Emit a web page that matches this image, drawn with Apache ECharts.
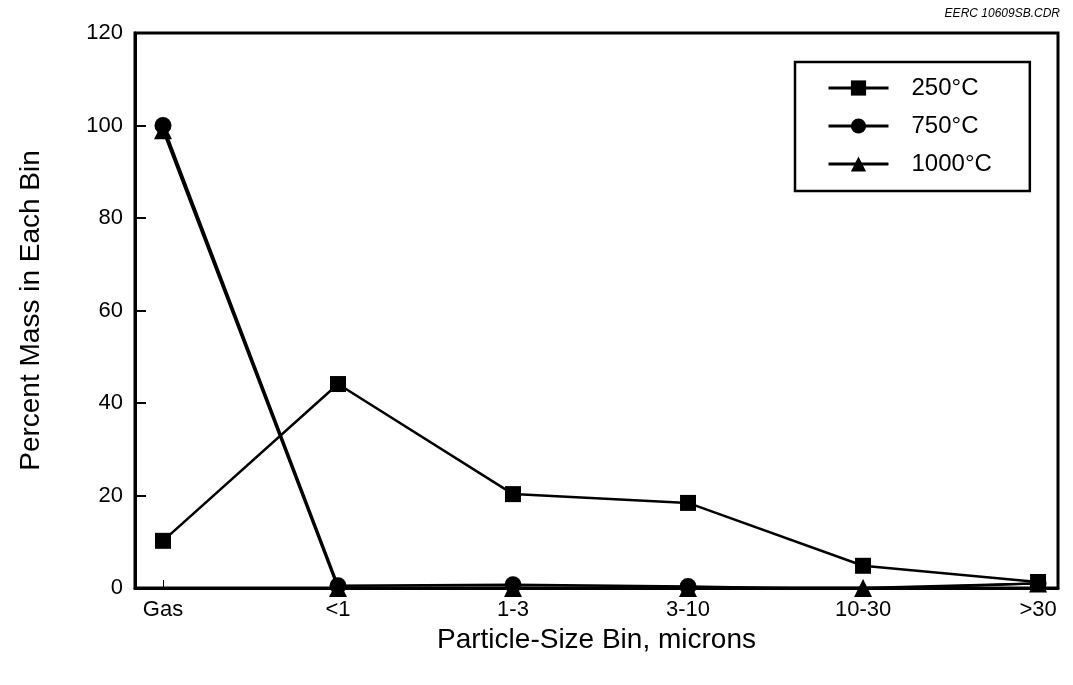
<!DOCTYPE html>
<html><head><meta charset="utf-8">
<script src="https://cdn.jsdelivr.net/npm/echarts@6/dist/echarts.min.js"></script>
<style>html,body{margin:0;padding:0;background:#fff}#c{width:1073px;height:685px}</style>
</head><body><div id="c"></div>
<script>
const categories = ['Gas', '<1', '1-3', '3-10', '10-30', '>30'];
const yTicks = [0, 20, 40, 60, 80, 100, 120];
const s250 = [10.2, 44.1, 20.3, 18.4, 4.8, 1.3];
const s750 = [100, 0.5, 0.7, 0.3, -0.3, 1.0];
const s1000 = [99, 0, 0, 0, 0, 1.0];

const toXY = arr => arr.map((v, i) => [i, v]);
const font = '"Liberation Sans", Arial, Helvetica, sans-serif';
const chart = echarts.init(document.getElementById('c'));
const mk = (name, data, symbol, size) => ({
  name, type: 'line', data: toXY(data), symbol, symbolSize: size,
  showAllSymbol: true,
  itemStyle: { color: '#000' }, lineStyle: { color: '#000', width: 2.5 },
  emphasis: { disabled: true }
});
chart.setOption({
  animation: false,
  title: { text: 'EERC 10609SB.CDR', right: 8, top: 3,
    textStyle: { fontFamily: font, fontSize: 12, fontStyle: 'italic', fontWeight: 'normal', color: '#000' } },
  grid: { left: 135, right: 15, top: 33, bottom: 97, show: true, borderColor: '#000', borderWidth: 3, backgroundColor: 'transparent' },
  legend: {
    data: ['250°C', '750°C', '1000°C'], orient: 'vertical', left: 795, top: 62,
    itemWidth: 60, itemHeight: 19, itemGap: 14,
    padding: [14, 38, 15, 32],
    borderColor: '#000', borderWidth: 2.5,
    lineStyle: { width: 3, color: '#000' },
    textStyle: { fontFamily: font, fontSize: 24, color: '#000', padding: [0, 0, 0, 18] }
  },
  xAxis: {
    type: 'value', min: -0.16, max: 5.114,
    name: 'Particle-Size Bin, microns', nameLocation: 'middle', nameGap: 35,
    nameTextStyle: { fontFamily: font, fontSize: 28, color: '#000' },
    axisLine: { show: true, lineStyle: { color: '#000', width: 3 } },
    axisTick: { show: true, inside: true, length: 8, customValues: [0,1,2,3,4,5], lineStyle: { color: '#000', width: 1 } },
    axisLabel: { customValues: [0,1,2,3,4,5], formatter: v => categories[Math.round(v)], fontFamily: font, fontSize: 22, color: '#000', margin: 11 },
    splitLine: { show: false }
  },
  yAxis: {
    type: 'value', min: 0, max: 120, interval: 20,
    name: 'Percent Mass in Each Bin', nameLocation: 'middle', nameGap: 90,
    nameTextStyle: { fontFamily: font, fontSize: 28, color: '#000' },
    axisLine: { show: true, onZero: false, lineStyle: { color: '#000', width: 3 } },
    axisTick: { show: true, inside: true, length: 11, lineStyle: { color: '#000', width: 2 } },
    axisLabel: { fontFamily: font, fontSize: 22, color: '#000', margin: 12, formatter: v => yTicks.includes(v) ? String(v) : '' },
    splitLine: { show: false }
  },
  series: [
    mk('1000°C', s1000, 'triangle', 18),
    mk('750°C', s750, 'circle', 17),
    mk('250°C', s250, 'rect', 16)
  ]
});
</script></body></html>
